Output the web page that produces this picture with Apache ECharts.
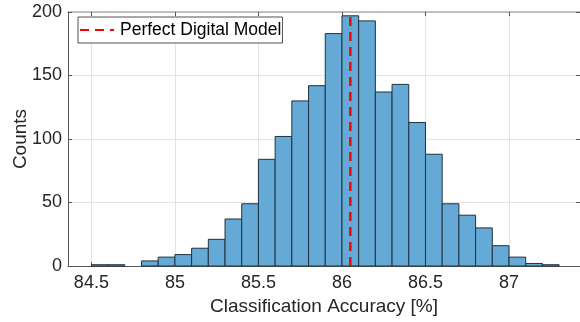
<!DOCTYPE html>
<html>
<head>
<meta charset="utf-8">
<script src="https://cdn.jsdelivr.net/npm/echarts@6/dist/echarts.min.js"></script>
<style>
  html, body { margin: 0; padding: 0; background: #fff; }
  #chart { width: 580px; height: 322px; }
</style>
</head>
<body>
<div id="chart"></div>
<script>
// Histogram of classification accuracy, 0.1 % wide bins
const binWidth = 0.1;
const binLefts = [84.5, 84.6, 84.7, 84.8, 84.9, 85.0, 85.1, 85.2, 85.3, 85.4,
                  85.5, 85.6, 85.7, 85.8, 85.9, 86.0, 86.1, 86.2, 86.3, 86.4,
                  86.5, 86.6, 86.7, 86.8, 86.9, 87.0, 87.1, 87.2];
const counts   = [1, 1, 0, 4, 7, 9, 14, 21, 37, 49,
                  84, 102, 130, 142, 183, 197, 193, 137, 143, 113,
                  88, 49, 40, 30, 16, 7, 2, 1];
const referenceAccuracy = 86.05;
const referenceName = 'Perfect Digital Model';
const xTicks = [84.5, 85, 85.5, 86, 86.5, 87];

const xMin = 84.36, xMax = 87.425;
const yMin = 0, yMax = 200;

const textColor = '#262626';
const font = '"Liberation Sans", Arial, Helvetica, sans-serif';

const histData = binLefts.map((x, i) => [x, counts[i]]);

const chart = echarts.init(document.getElementById('chart'), null, { renderer: 'canvas' });

const gridLine = { show: true, lineStyle: { color: '#e3e3e3', width: 1 } };

chart.setOption({
  animation: false,
  backgroundColor: '#fff',
  grid: { left: 68, right: 0, top: 12, bottom: 56, containLabel: false, outerBoundsMode: 'none' },
  legend: {
    left: 78, top: 17,
    data: [referenceName],
    orient: 'horizontal',
    backgroundColor: '#fff',
    borderColor: '#262626',
    borderWidth: 0.8,
    borderRadius: 0,
    padding: [4, 1, 4, 1],
    itemWidth: 34,
    itemHeight: 14,
    itemGap: 4,
    itemStyle: { opacity: 0 },
    textStyle: { fontFamily: font, fontSize: 17.5, color: '#000', padding: [0, 0, 0, 1] }
  },
  xAxis: [{
    type: 'value', min: xMin, max: xMax,
    name: 'Classification Accuracy [%]', nameLocation: 'middle', nameGap: 31, nameMoveOverlap: false,
    nameTextStyle: { fontFamily: font, fontSize: 19, color: textColor },
    axisLine: { show: true, onZero: false, lineStyle: { color: '#555', width: 1 } },
    axisTick: { show: true, inside: true, length: 4, customValues: xTicks, lineStyle: { color: '#555' } },
    axisLabel: { customValues: xTicks, fontFamily: font, fontSize: 18, color: textColor, margin: 8,
                 formatter: v => String(v) },
    splitLine: gridLine
  }, {
    type: 'value', min: xMin, max: xMax, position: 'top',
    axisLine: { show: true, onZero: false, lineStyle: { color: '#b0b0b0', width: 1.5 } },
    axisTick: { show: true, inside: true, length: 4, customValues: xTicks, lineStyle: { color: '#555' } },
    axisLabel: { show: false },
    splitLine: { show: false }
  }],
  yAxis: [{
    type: 'value', min: yMin, max: yMax, interval: 50,
    name: 'Counts', nameLocation: 'middle', nameGap: 38, nameMoveOverlap: false,
    nameTextStyle: { fontFamily: font, fontSize: 19, color: textColor },
    axisLine: { show: true, onZero: false, lineStyle: { color: '#555', width: 1 } },
    axisTick: { show: true, inside: true, length: 4, lineStyle: { color: '#555' } },
    axisLabel: { fontFamily: font, fontSize: 18, color: textColor, margin: 6 },
    splitLine: gridLine
  }, {
    type: 'value', min: yMin, max: yMax, interval: 50, position: 'right',
    axisLine: { show: true, onZero: false, lineStyle: { color: '#555', width: 1 } },
    axisTick: { show: true, inside: true, length: 4, lineStyle: { color: '#555' } },
    axisLabel: { show: false },
    splitLine: { show: false }
  }],
  series: [{
    type: 'custom',
    name: 'Accuracy',
    data: histData,
    encode: { x: 0, y: 1 },
    renderItem: function (params, api) {
      const left = api.value(0);
      const c = api.value(1);
      if (!c) return null;
      const p0 = api.coord([left, c]);
      const p1 = api.coord([left + binWidth, 0]);
      return {
        type: 'rect',
        shape: { x: p0[0], y: p0[1], width: p1[0] - p0[0], height: p1[1] - p0[1] },
        style: { fill: '#65a9d7', stroke: '#23313f', lineWidth: 1 }
      };
    },
    z: 2
  }, {
    type: 'line',
    name: referenceName,
    data: [[referenceAccuracy, yMin], [referenceAccuracy, yMax]],
    symbol: 'none',
    lineStyle: { color: '#ff0000', width: 2.5, type: [9, 6] },
    itemStyle: { color: '#ff0000' },
    z: 5
  }]
});
</script>
</body>
</html>
